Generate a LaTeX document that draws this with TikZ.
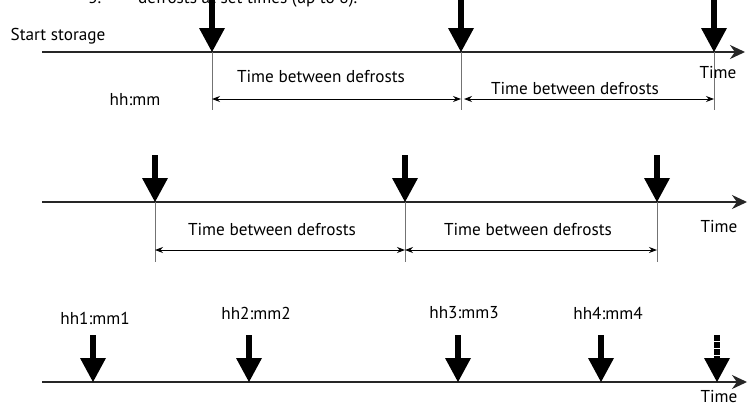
\documentclass[tikz,border=0pt]{standalone}
\usepackage{fontspec}
\setmainfont{PT Sans}
\usetikzlibrary{arrows.meta}
\tikzset{
  axisline/.style={line width=1.6pt, draw=black!85, -{Stealth[length=15pt,width=14pt]}},
  tick/.style={line width=1pt, draw=black!55},
  dim/.style={line width=1pt, {Stealth[length=8pt,width=6pt]}-{Stealth[length=8pt,width=6pt]}},
  lbl/.style={font=\fontsize{17.2}{19}\selectfont, inner sep=0pt},
}
\newcommand{\defarrow}[3]{% x, shaft top y, axis y
  \draw[line width=5.5pt] (#1,#2) -- (#1,#3-22);
  \fill (#1-13,#3-24) -- (#1+13,#3-24) -- (#1,#3) -- cycle;}
\newcommand{\defarrowdot}[3]{%
  \draw[line width=5.5pt, dash pattern=on 6pt off 1pt] (#1,#2) -- (#1,#3-22);
  \fill (#1-13,#3-24) -- (#1+13,#3-24) -- (#1,#3) -- cycle;}
\begin{document}
\begin{tikzpicture}[x=1pt,y=-1pt]
\clip (0,0) rectangle (754,405);
\fill[white] (0,0) rectangle (754,405);
% cut-off heading
\node[lbl, anchor=base west] (h3) at (88,3) {3.};
\node[lbl, anchor=base west] (htxt) at (138,3) {defrosts at set times (up to 8).};
% ---------- Row 1 ----------
\coordinate (a0) at (42,52);
\coordinate (a1) at (212,52);
\coordinate (a2) at (461,52);
\coordinate (a3) at (714,52);
\coordinate (aend) at (745,52);
\draw[axisline] (a0) -- (aend);
\foreach \p in {a1,a2,a3} {\draw[tick] (\p) -- ++(0,58);}
\defarrow{212}{-5}{52}
\defarrow{461}{-5}{52}
\defarrow{714}{-5}{52}
\coordinate (d1) at (212,99);
\coordinate (d2) at (461,99);
\coordinate (d2b) at (464,99);
\coordinate (d3) at (714,99);
\draw[dim] (d1) -- (d2);
\draw[dim] (d2b) -- (d3);
\node[lbl] (s) at (58,36) {Start storage};
\node[lbl] (t1a) at (321,77) {Time between defrosts};
\node[lbl] (t1b) at (575,89) {Time between defrosts};
\node[lbl] (time1) at (718,73) {Time};
\node[lbl] (hm) at (135,100) {hh:mm};
% ---------- Row 2 ----------
\coordinate (b0) at (42,202);
\coordinate (b1) at (155,202);
\coordinate (b2) at (405,202);
\coordinate (b3) at (657,202);
\coordinate (bend) at (747,202);
\draw[axisline] (b0) -- (bend);
\foreach \p in {b1,b2,b3} {\draw[tick] (\p) -- ++(0,60);}
\defarrow{155}{155}{202}
\defarrow{405}{155}{202}
\defarrow{657}{155}{202}
\coordinate (e1) at (155,250);
\coordinate (e2) at (405,250);
\coordinate (e3) at (657,250);
\draw[dim] (e1) -- (e2);
\draw[dim] (e2) -- (e3);
\node[lbl] (t2a) at (272,230) {Time between defrosts};
\node[lbl] (t2b) at (528,230) {Time between defrosts};
\node[lbl] (time2) at (719,227) {Time};
% ---------- Row 3 ----------
\coordinate (c0) at (42,382);
\coordinate (cend) at (747,382);
\draw[axisline] (c0) -- (cend);
\defarrow{93}{335}{382}
\defarrow{249}{335}{382}
\defarrow{458}{335}{382}
\defarrow{601}{335}{382}
\defarrowdot{717}{335}{382}
\node[lbl] (k1) at (95,318) {hh1:mm1};
\node[lbl] (k2) at (256,313) {hh2:mm2};
\node[lbl] (k3) at (464,313) {hh3:mm3};
\node[lbl] (k4) at (608,313) {hh4:mm4};
\node[lbl] (time3) at (719,397) {Time};
\end{tikzpicture}
\end{document}
